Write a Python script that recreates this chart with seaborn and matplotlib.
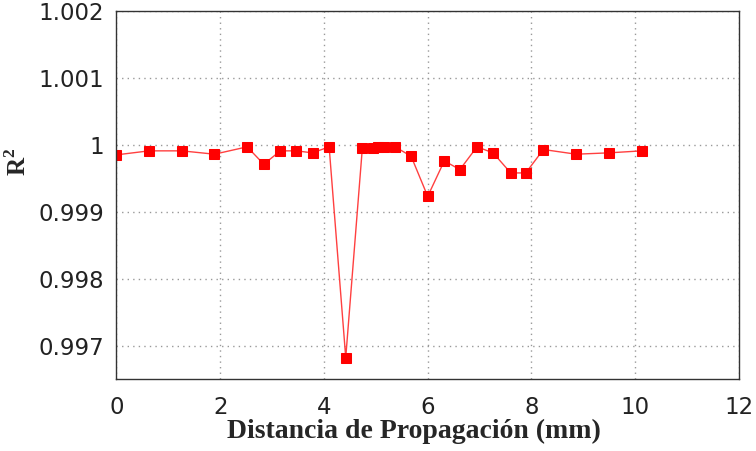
import matplotlib
matplotlib.use("Agg")
import matplotlib.pyplot as plt
import seaborn as sns
import pandas as pd

distance_mm = [0.00, 0.63, 1.26, 1.89, 2.52, 2.84, 3.16, 3.47, 3.78, 4.10,
               4.42, 4.74, 4.94, 5.05, 5.15, 5.37, 5.68, 6.00, 6.32, 6.62,
               6.95, 7.26, 7.60, 7.89, 8.23, 8.86, 9.49, 10.13]
r_squared = [0.99985, 0.99991, 0.99991, 0.99986, 0.99997, 0.99971, 0.99991, 0.99991,
             0.99988, 0.99997, 0.99682, 0.99995, 0.99995, 0.99997, 0.99997, 0.99997,
             0.99983, 0.99923, 0.99976, 0.99963, 0.99997, 0.99988, 0.99958, 0.99958,
             0.99993, 0.99986, 0.99988, 0.99991]
x_ticks = [0, 2, 4, 6, 8, 10, 12]
y_ticks = [0.997, 0.998, 0.999, 1.000, 1.001, 1.002]
y_tick_labels = ["0.997", "0.998", "0.999", "1", "1.001", "1.002"]

df = pd.DataFrame({"d": distance_mm, "r2": r_squared})

sns.set_style("white")
plt.rcParams["font.family"] = ["DejaVu Sans"]
plt.rcParams["mathtext.fontset"] = "custom"
plt.rcParams["mathtext.bf"] = "Liberation Serif:bold"
plt.rcParams["mathtext.rm"] = "Liberation Serif"

fig = plt.figure(figsize=(7.56, 4.51), dpi=100)
ax = fig.add_axes([0.154, 0.1596, 0.8235, 0.816])

sns.lineplot(data=df, x="d", y="r2", ax=ax, color="#ff0000", linewidth=1.0,
             marker="s", markersize=7, markeredgecolor="#ff0000",
             markerfacecolor="#ff0000", sort=False)
ax.lines[0].set_color("#ff4040")
ax.lines[0].set_markerfacecolor("#ff0000")
ax.lines[0].set_markeredgecolor("#ff0000")

ax.set_xlim(0, 12)
ax.set_ylim(0.99650, 1.002)
ax.set_xticks(x_ticks)
ax.set_yticks(y_ticks)
ax.set_yticklabels(y_tick_labels)
ax.tick_params(axis="both", direction="in", length=6, width=1, labelsize=16.5,
               colors="#333333", labelcolor="#222222", top=False, right=False)
ax.tick_params(axis="y", pad=9)
ax.tick_params(axis="x", pad=12)
ax.grid(True, linestyle=(0, (1, 3)), color="#999999", linewidth=1)
for s in ax.spines.values():
    s.set_color("#333333")
    s.set_linewidth(1)

ax.set_xlabel("Distancia de Propagación (mm)", fontfamily="Liberation Serif",
              fontweight="bold", fontsize=20)
ax.xaxis.set_label_coords(0.478, -0.108)
ax.set_ylabel(r"$\mathbf{R}^{\mathbf{2}}$", fontsize=18)
ax.yaxis.set_label_coords(-0.137, 0.59)

fig.savefig("out.png", dpi=100)
